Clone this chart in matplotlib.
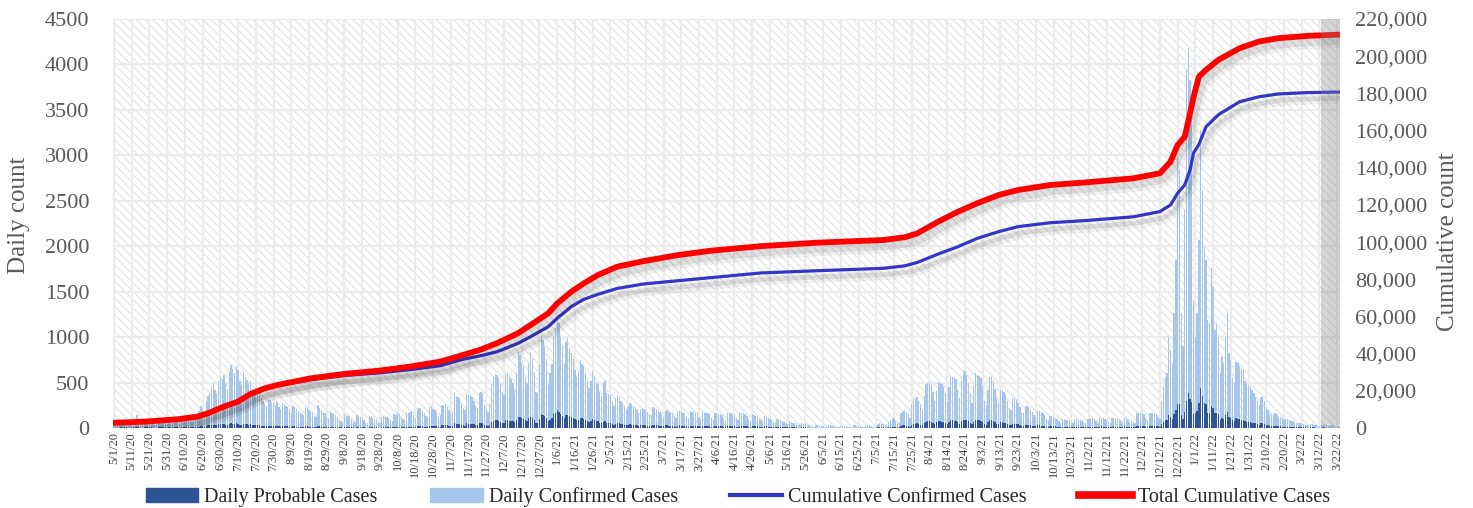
import matplotlib
matplotlib.use('Agg')
import matplotlib.pyplot as plt
import matplotlib.patheffects as pe
from matplotlib.patches import Patch, Rectangle
from matplotlib.lines import Line2D
from matplotlib.ticker import FuncFormatter, MultipleLocator
import pandas as pd

plt.rcParams['font.family'] = ['Liberation Serif', 'DejaVu Serif']
plt.rcParams['hatch.linewidth'] = 0.8

# daily confirmed cases, one list per month
conf_2020_05 = [60, 45, 30, 55, 70, 65, 80, 75, 50, 35, 60, 75, 90, 140, 80, 55, 40, 65, 80, 70, 85, 75, 50, 35, 40, 70, 80, 75, 90, 60, 45]
conf_2020_06 = [70, 55, 90, 100, 110, 85, 60, 75, 95, 120, 110, 130, 90, 70, 100, 140, 160, 190, 240, 210, 170, 300, 350, 390, 450, 500, 420, 380, 520, 560]
conf_2020_07 = [540, 580, 500, 430, 620, 690, 650, 600, 680, 640, 520, 470, 630, 560, 530, 500, 520, 430, 360, 440, 410, 380, 330, 300, 260, 240, 320, 310, 290, 280, 250]
conf_2020_08 = [290, 230, 210, 280, 260, 240, 230, 200, 170, 240, 230, 210, 190, 180, 150, 140, 230, 220, 200, 180, 170, 130, 120, 250, 220, 200, 180, 160, 120, 110, 190]
conf_2020_09 = [160, 150, 140, 120, 90, 80, 70, 150, 140, 130, 120, 100, 80, 70, 140, 130, 120, 110, 90, 70, 60, 130, 120, 110, 100, 90, 70, 60, 120, 130]
conf_2020_10 = [130, 120, 110, 90, 80, 150, 140, 160, 150, 120, 100, 90, 170, 160, 180, 190, 140, 110, 200, 220, 210, 190, 170, 130, 120, 230, 240, 210, 200, 170, 130]
conf_2020_11 = [140, 250, 240, 260, 230, 200, 160, 180, 380, 350, 340, 330, 280, 220, 200, 370, 360, 350, 340, 300, 240, 220, 390, 400, 380, 250, 210, 180, 260, 480]
conf_2020_12 = [560, 590, 580, 550, 480, 400, 360, 590, 600, 560, 540, 500, 420, 600, 840, 800, 710, 680, 560, 500, 720, 840, 760, 620, 400, 380, 700, 1020, 970, 900, 760]
conf_2021_01 = [480, 600, 700, 1000, 1100, 1220, 1150, 1000, 900, 700, 950, 990, 880, 820, 760, 640, 560, 620, 750, 700, 680, 600, 520, 440, 520, 625, 570, 510, 480, 400, 350]
conf_2021_02 = [500, 520, 380, 370, 360, 300, 240, 330, 360, 340, 300, 280, 240, 200, 230, 270, 260, 240, 230, 200, 170, 210, 220, 210, 190, 180, 150, 140]
conf_2021_03 = [230, 220, 210, 190, 180, 150, 120, 190, 200, 180, 170, 160, 130, 110, 180, 190, 180, 170, 160, 130, 110, 185, 180, 175, 170, 160, 120, 100, 180, 170, 165]
conf_2021_04 = [160, 150, 110, 90, 170, 160, 155, 150, 140, 110, 90, 170, 160, 165, 150, 140, 110, 90, 180, 170, 160, 150, 130, 100, 80, 150, 140, 130, 120, 100]
conf_2021_05 = [90, 70, 130, 120, 110, 100, 90, 70, 50, 100, 90, 85, 80, 70, 50, 40, 80, 70, 60, 55, 50, 35, 30, 50, 45, 40, 35, 30, 25, 20, 15]
conf_2021_06 = [35, 30, 25, 25, 20, 15, 12, 30, 28, 25, 20, 18, 12, 10, 25, 22, 20, 18, 15, 10, 12, 30, 28, 25, 22, 18, 12, 10, 35, 30]
conf_2021_07 = [30, 25, 15, 12, 20, 45, 50, 45, 40, 30, 25, 70, 90, 100, 110, 80, 60, 50, 170, 190, 200, 180, 150, 110, 260, 320, 330, 340, 300, 250, 200]
conf_2021_08 = [350, 480, 490, 495, 470, 400, 300, 410, 510, 500, 480, 455, 380, 290, 450, 560, 565, 550, 540, 420, 330, 520, 600, 630, 580, 500, 380, 280, 460, 600, 580]
conf_2021_09 = [570, 550, 460, 300, 250, 420, 565, 560, 520, 430, 330, 270, 420, 418, 400, 360, 300, 220, 200, 330, 330, 320, 280, 230, 170, 160, 240, 240, 230, 200]
conf_2021_10 = [180, 140, 120, 190, 190, 180, 160, 140, 100, 90, 130, 135, 120, 115, 100, 80, 60, 100, 95, 90, 85, 80, 60, 50, 95, 100, 90, 85, 80, 60, 50]
conf_2021_11 = [95, 100, 105, 110, 100, 80, 60, 110, 115, 110, 100, 90, 70, 55, 110, 115, 105, 100, 95, 75, 60, 115, 110, 90, 60, 80, 70, 60, 160, 165]
conf_2021_12 = [160, 165, 150, 110, 90, 170, 165, 160, 155, 150, 120, 100, 300, 450, 565, 610, 1004, 860, 700, 1266, 1848, 2985, 2838, 1266, 900, 2398, 3938, 4176, 3828, 3461, 1400]
conf_2022_01 = [1000, 1266, 2068, 3278, 2618, 1994, 1848, 1188, 1151, 1756, 1555, 1078, 1151, 1004, 601, 785, 711, 1000, 1266, 821, 748, 565, 500, 730, 711, 680, 650, 638, 520, 491, 470]
conf_2022_02 = [455, 420, 380, 345, 300, 250, 345, 340, 300, 235, 200, 162, 150, 140, 160, 150, 125, 120, 107, 100, 90, 95, 85, 80, 75, 70, 60, 55]
conf_2022_03 = [50, 45, 40, 35, 30, 25, 40, 45, 35, 30, 25, 20, 30, 35, 40, 30, 25, 20, 35, 30, 25, 20, 15]

# daily probable cases, one list per month
prob_2020_05 = [5, 3, 2, 4, 6, 5, 8, 6, 4, 3, 5, 7, 8, 10, 7, 5, 3, 6, 8, 7, 9, 6, 4, 3, 4, 7, 8, 7, 9, 6, 4]
prob_2020_06 = [6, 5, 8, 9, 10, 8, 5, 7, 9, 11, 10, 12, 8, 6, 9, 12, 14, 16, 20, 18, 15, 25, 28, 30, 35, 38, 30, 28, 40, 42]
prob_2020_07 = [40, 45, 38, 30, 45, 50, 48, 44, 50, 46, 38, 34, 46, 42, 40, 38, 40, 32, 28, 34, 30, 28, 25, 22, 20, 18, 24, 24, 22, 20, 18]
prob_2020_08 = [22, 18, 16, 22, 20, 18, 18, 16, 13, 19, 18, 16, 15, 14, 12, 11, 18, 17, 16, 14, 13, 10, 9, 20, 17, 16, 14, 12, 9, 8, 15]
prob_2020_09 = [12, 12, 11, 9, 7, 6, 5, 12, 11, 10, 9, 8, 6, 5, 11, 10, 9, 9, 7, 5, 5, 10, 9, 9, 8, 7, 5, 5, 9, 10]
prob_2020_10 = [10, 9, 9, 7, 6, 12, 11, 13, 12, 10, 8, 7, 14, 13, 15, 16, 11, 9, 18, 20, 19, 17, 15, 12, 11, 22, 24, 21, 20, 17, 13]
prob_2020_11 = [14, 30, 30, 33, 29, 26, 20, 23, 50, 46, 45, 44, 37, 29, 27, 50, 49, 48, 46, 41, 33, 30, 55, 57, 54, 36, 30, 26, 37, 70]
prob_2020_12 = [80, 85, 84, 80, 70, 58, 52, 86, 88, 82, 80, 74, 62, 88, 124, 118, 105, 100, 83, 74, 107, 125, 113, 92, 60, 56, 104, 152, 144, 134, 113]
prob_2021_01 = [72, 90, 105, 150, 165, 200, 180, 150, 135, 105, 142, 148, 132, 123, 114, 96, 84, 93, 112, 105, 102, 90, 78, 66, 78, 94, 85, 76, 72, 60, 52]
prob_2021_02 = [70, 72, 55, 54, 52, 44, 35, 48, 52, 50, 44, 41, 35, 29, 33, 39, 38, 35, 33, 29, 25, 30, 32, 30, 28, 26, 22, 20]
prob_2021_03 = [33, 32, 30, 28, 26, 22, 17, 28, 29, 26, 25, 23, 19, 16, 26, 28, 26, 25, 23, 19, 16, 27, 26, 25, 25, 23, 17, 15, 26, 25, 24]
prob_2021_04 = [23, 22, 16, 13, 25, 23, 22, 22, 20, 16, 13, 25, 23, 24, 22, 20, 16, 13, 26, 25, 23, 22, 19, 15, 12, 22, 20, 19, 17, 15]
prob_2021_05 = [13, 10, 19, 17, 16, 15, 13, 10, 7, 15, 13, 12, 12, 10, 7, 6, 12, 10, 9, 8, 7, 5, 4, 7, 7, 6, 5, 4, 4, 3, 2]
prob_2021_06 = [5, 4, 4, 4, 3, 2, 2, 4, 4, 4, 3, 3, 2, 1, 4, 3, 3, 3, 2, 1, 2, 4, 4, 4, 3, 3, 2, 1, 5, 4]
prob_2021_07 = [4, 4, 2, 2, 3, 7, 7, 7, 6, 4, 4, 10, 13, 15, 16, 12, 9, 7, 25, 28, 30, 27, 22, 16, 38, 47, 49, 50, 44, 37, 30]
prob_2021_08 = [52, 71, 72, 73, 70, 59, 44, 61, 75, 74, 71, 67, 56, 43, 67, 83, 84, 81, 80, 62, 49, 77, 89, 93, 86, 74, 56, 41, 68, 89, 86]
prob_2021_09 = [84, 81, 68, 44, 37, 62, 84, 83, 77, 64, 49, 40, 62, 62, 59, 53, 44, 33, 30, 49, 49, 47, 41, 34, 25, 24, 36, 36, 34, 30]
prob_2021_10 = [27, 21, 18, 28, 28, 27, 24, 21, 15, 13, 19, 20, 18, 17, 15, 12, 9, 15, 14, 13, 13, 12, 9, 7, 14, 15, 13, 13, 12, 9, 7]
prob_2021_11 = [14, 15, 16, 16, 15, 12, 9, 16, 17, 16, 15, 13, 10, 8, 16, 17, 16, 15, 14, 11, 9, 17, 16, 13, 9, 12, 10, 9, 24, 25]
prob_2021_12 = [24, 25, 22, 16, 13, 25, 25, 24, 23, 22, 18, 15, 45, 68, 85, 92, 140, 120, 100, 150, 200, 260, 265, 140, 100, 180, 300, 385, 320, 290, 150]
prob_2022_01 = [160, 190, 280, 440, 350, 280, 260, 170, 160, 240, 220, 160, 170, 150, 90, 110, 100, 140, 180, 120, 110, 85, 75, 105, 100, 95, 90, 90, 75, 70, 65]
prob_2022_02 = [65, 60, 55, 50, 45, 38, 50, 50, 45, 35, 30, 25, 22, 21, 24, 22, 19, 18, 16, 15, 14, 14, 13, 12, 11, 10, 9, 8]
prob_2022_03 = [8, 7, 6, 6, 5, 4, 6, 7, 6, 5, 4, 3, 5, 6, 6, 5, 4, 3, 5, 5, 4, 3, 2]

# cumulative counts
cum_dates = ['2020-05-01', '2020-05-18', '2020-06-06', '2020-06-17', '2020-06-23', '2020-07-02',
             '2020-07-10', '2020-07-17', '2020-07-25', '2020-08-01', '2020-08-20', '2020-09-08',
             '2020-09-27', '2020-10-15', '2020-11-01', '2020-11-14', '2020-11-24', '2020-12-03',
             '2020-12-15', '2020-12-22', '2021-01-01', '2021-01-06', '2021-01-14', '2021-01-21',
             '2021-01-29', '2021-02-09', '2021-02-24', '2021-03-15', '2021-04-03', '2021-05-01',
             '2021-06-02', '2021-07-09', '2021-07-21', '2021-07-28', '2021-08-09', '2021-08-20',
             '2021-08-31', '2021-09-12', '2021-09-23', '2021-10-11', '2021-10-30', '2021-11-27',
             '2021-12-12', '2021-12-18', '2021-12-22', '2021-12-26', '2021-12-29', '2021-12-31',
             '2022-01-03', '2022-01-07', '2022-01-14', '2022-01-26', '2022-02-06', '2022-02-17',
             '2022-03-05', '2022-03-23']
cum_confirmed = [2800, 3400, 4600, 6000, 7800, 11300, 14000, 18000, 21000, 22700, 26000, 28200,
                 29600, 31400, 33500, 37000, 38900, 41000, 45600, 49100, 54500, 59000, 65300, 69200,
                 71900, 75100, 77500, 79200, 80900, 83400, 84600, 85900, 87200, 89000, 93600, 97500,
                 102000, 105600, 108300, 110400, 111500, 113600, 116400, 120000, 126300, 130700, 138800, 148000,
                 152500, 162000, 168500, 175500, 178200, 179700, 180400, 180700]
cum_total = [2800, 3400, 4700, 6100, 7900, 11500, 14200, 18300, 21300, 23100, 26700, 29100,
             30800, 33000, 35700, 39300, 42200, 45600, 51000, 55400, 61700, 67000, 73300, 77800,
             82300, 86800, 89800, 93000, 95400, 97800, 99700, 101100, 102600, 104600, 111000, 116300,
             120900, 125300, 128000, 130700, 132000, 134300, 137000, 143300, 152200, 156700, 169300, 178200,
             189000, 192600, 198000, 204300, 207900, 209700, 210900, 211600]

shade_start = '2022-03-12 18:00'

conf_months = [conf_2020_05, conf_2020_06, conf_2020_07, conf_2020_08, conf_2020_09, conf_2020_10,
               conf_2020_11, conf_2020_12, conf_2021_01, conf_2021_02, conf_2021_03, conf_2021_04,
               conf_2021_05, conf_2021_06, conf_2021_07, conf_2021_08, conf_2021_09, conf_2021_10,
               conf_2021_11, conf_2021_12, conf_2022_01, conf_2022_02, conf_2022_03]
prob_months = [prob_2020_05, prob_2020_06, prob_2020_07, prob_2020_08, prob_2020_09, prob_2020_10,
               prob_2020_11, prob_2020_12, prob_2021_01, prob_2021_02, prob_2021_03, prob_2021_04,
               prob_2021_05, prob_2021_06, prob_2021_07, prob_2021_08, prob_2021_09, prob_2021_10,
               prob_2021_11, prob_2021_12, prob_2022_01, prob_2022_02, prob_2022_03]
daily_confirmed = [v for m in conf_months for v in m]
daily_probable = [v for m in prob_months for v in m]
n = min(len(daily_confirmed), len(daily_probable))
days = pd.date_range('2020-05-01', periods=n, freq='D')
line_x = pd.to_datetime(cum_dates)

light = '#a6c7ea'
dark = '#2f5496'
blue = '#3535c8'
red = '#ff0000'
grey_txt = '#595959'

fig = plt.figure(figsize=(14.73, 5.08), dpi=100)
ax = fig.add_axes([0.0767, 0.1575, 0.8330, 0.8051])
ax.add_patch(Rectangle((0, 0), 1, 1, transform=ax.transAxes, facecolor='white',
                       edgecolor='#e3e3e3', hatch='\\\\\\\\', lw=0, zorder=0))
ax.bar(days, daily_confirmed[:n], width=0.72, color=light, zorder=2)
ax.bar(days, daily_probable[:n], width=0.72, color=dark, zorder=3)

ax.set_ylim(0, 4500)
ax.yaxis.set_major_locator(MultipleLocator(500))
ax.set_xlim(days[0] - pd.Timedelta(hours=14), days[-1] + pd.Timedelta(hours=14))
ticks = days[::10]
ax.set_xticks(ticks)
ax.set_xticklabels([f'{d.month}/{d.day}/{d.year % 100}' for d in ticks],
                   rotation=90, fontsize=9, color='#404040')
ax.set_axisbelow(True)
ax.grid(True, color='#ececec', lw=1.6)
for s in ax.spines.values():
    s.set_visible(False)
ax.tick_params(axis='y', length=0, labelsize=16, labelcolor=grey_txt, pad=17)
ax.tick_params(axis='x', length=0, pad=3)
ax.set_ylabel('Daily count', fontsize=18, color=grey_txt)
ax.yaxis.set_label_coords(-0.068, 0.52)

ax2 = ax.twinx()
blue_fx = [pe.SimpleLineShadow(offset=(3, -5), shadow_color='black', alpha=0.05, linewidth=7),
           pe.SimpleLineShadow(offset=(2.5, -4.5), shadow_color='black', alpha=0.09, linewidth=3.5),
           pe.Normal()]
red_fx = [pe.SimpleLineShadow(offset=(3, -5), shadow_color='black', alpha=0.05, linewidth=9),
          pe.SimpleLineShadow(offset=(2.5, -4.5), shadow_color='black', alpha=0.08, linewidth=5.5),
          pe.Normal()]
ax2.plot(line_x, cum_confirmed, color=blue, lw=2.3, path_effects=blue_fx, zorder=3,
         solid_joinstyle='round')
ax2.plot(line_x, cum_total, color=red, lw=4.2, path_effects=red_fx, zorder=4,
         solid_capstyle='round', solid_joinstyle='round')
ax2.axvspan(pd.Timestamp(shade_start), days[-1] + pd.Timedelta(hours=14),
            color='#808080', alpha=0.33, lw=0, zorder=6)
ax2.set_ylim(0, 220000)
ax2.yaxis.set_major_locator(MultipleLocator(20000))
ax2.yaxis.set_major_formatter(FuncFormatter(lambda v, p: f'{int(v):,}'))
for s in ax2.spines.values():
    s.set_visible(False)
ax2.tick_params(axis='y', length=0, labelsize=16, labelcolor=grey_txt, pad=11)
ax2.set_ylabel('Cumulative count', fontsize=18, color=grey_txt, rotation=90)
ax2.yaxis.set_label_coords(1.079, 0.455)
ax2.set_xlim(ax.get_xlim())

handles = [Patch(color=dark), Patch(color=light),
           Line2D([0], [0], color=blue, lw=3), Line2D([0], [0], color=red, lw=5.5)]
labels = ['Daily Probable Cases', 'Daily Confirmed Cases', 'Cumulative Confirmed Cases',
          'Total Cumulative Cases']
fig.legend(handles, labels, loc='center', bbox_to_anchor=(0.501, 0.022), ncol=4,
           frameon=False, fontsize=14.5, handlelength=2.6, columnspacing=2.6,
           handletextpad=0.3, labelcolor='#262626')

fig.savefig('out.png', dpi=100)
